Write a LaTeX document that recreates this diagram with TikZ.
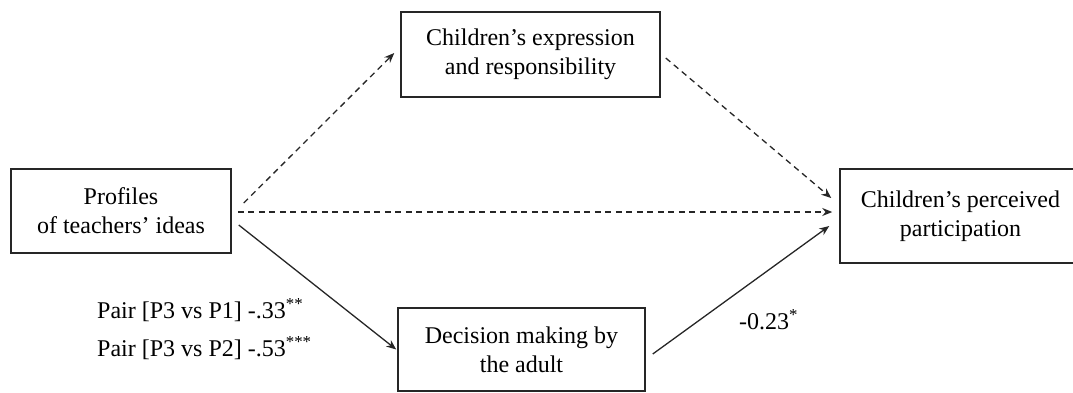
\documentclass[tikz,border=0pt]{standalone}
\usepackage{fontspec}
\setmainfont{Liberation Serif}
\usetikzlibrary{arrows.meta}
\begin{document}
\begin{tikzpicture}[x=1pt,y=-1pt,
  every node/.style={font=\fontsize{24}{29}\selectfont},
  box/.style={draw=black!85, line width=1.5pt, rectangle, align=center, inner sep=0pt},
  conn/.style={line width=1.3pt, black!85, -{Stealth[length=10pt,width=8pt]}},
  dashconn/.style={conn, dash pattern=on 6pt off 4.5pt},
  lbl/.style={inner sep=0pt}
]
\useasboundingbox (0,0) rectangle (1073,392);
\node[box, minimum width=220pt, minimum height=84pt] (L) at (121,211) {Profiles\\of teachers’ ideas};
\node[box, minimum width=259pt, minimum height=85pt] (T) at (530.5,54.5) {Children’s expression\\and responsibility};
\node[box, minimum width=241pt, minimum height=94pt] (R) at (960.5,216) {Children’s perceived\\participation};
\node[box, minimum width=247pt, minimum height=83pt] (B) at (521.5,349.5) {Decision making by\\the adult};

\draw[dashconn] ([shift={(12,-8)}]L.east) -- ([shift={(-6,-1.5)}]T.west);
\draw[dashconn] ([shift={(6,1)}]L.east) -- ([shift={(-7,-4)}]R.west);
\draw[dashconn] ([shift={(5,3.5)}]T.east) -- ([shift={(-8,-18)}]R.west);
\draw[conn] ([shift={(7,14)}]L.east) -- ([shift={(-1,0)}]B.west);
\draw[conn] ([shift={(7,4.5)}]B.east) -- ([shift={(-10,10)}]R.west);

\node[lbl, anchor=west] (p1) at (97,310) {Pair [P3 vs P1] -.33\textsuperscript{**}};
\node[lbl, anchor=west] (p2) at (97,348) {Pair [P3 vs P2] -.53\textsuperscript{***}};
\node[lbl, anchor=west] (c1) at (739,320) {-0.23\textsuperscript{*}};
\end{tikzpicture}
\end{document}
